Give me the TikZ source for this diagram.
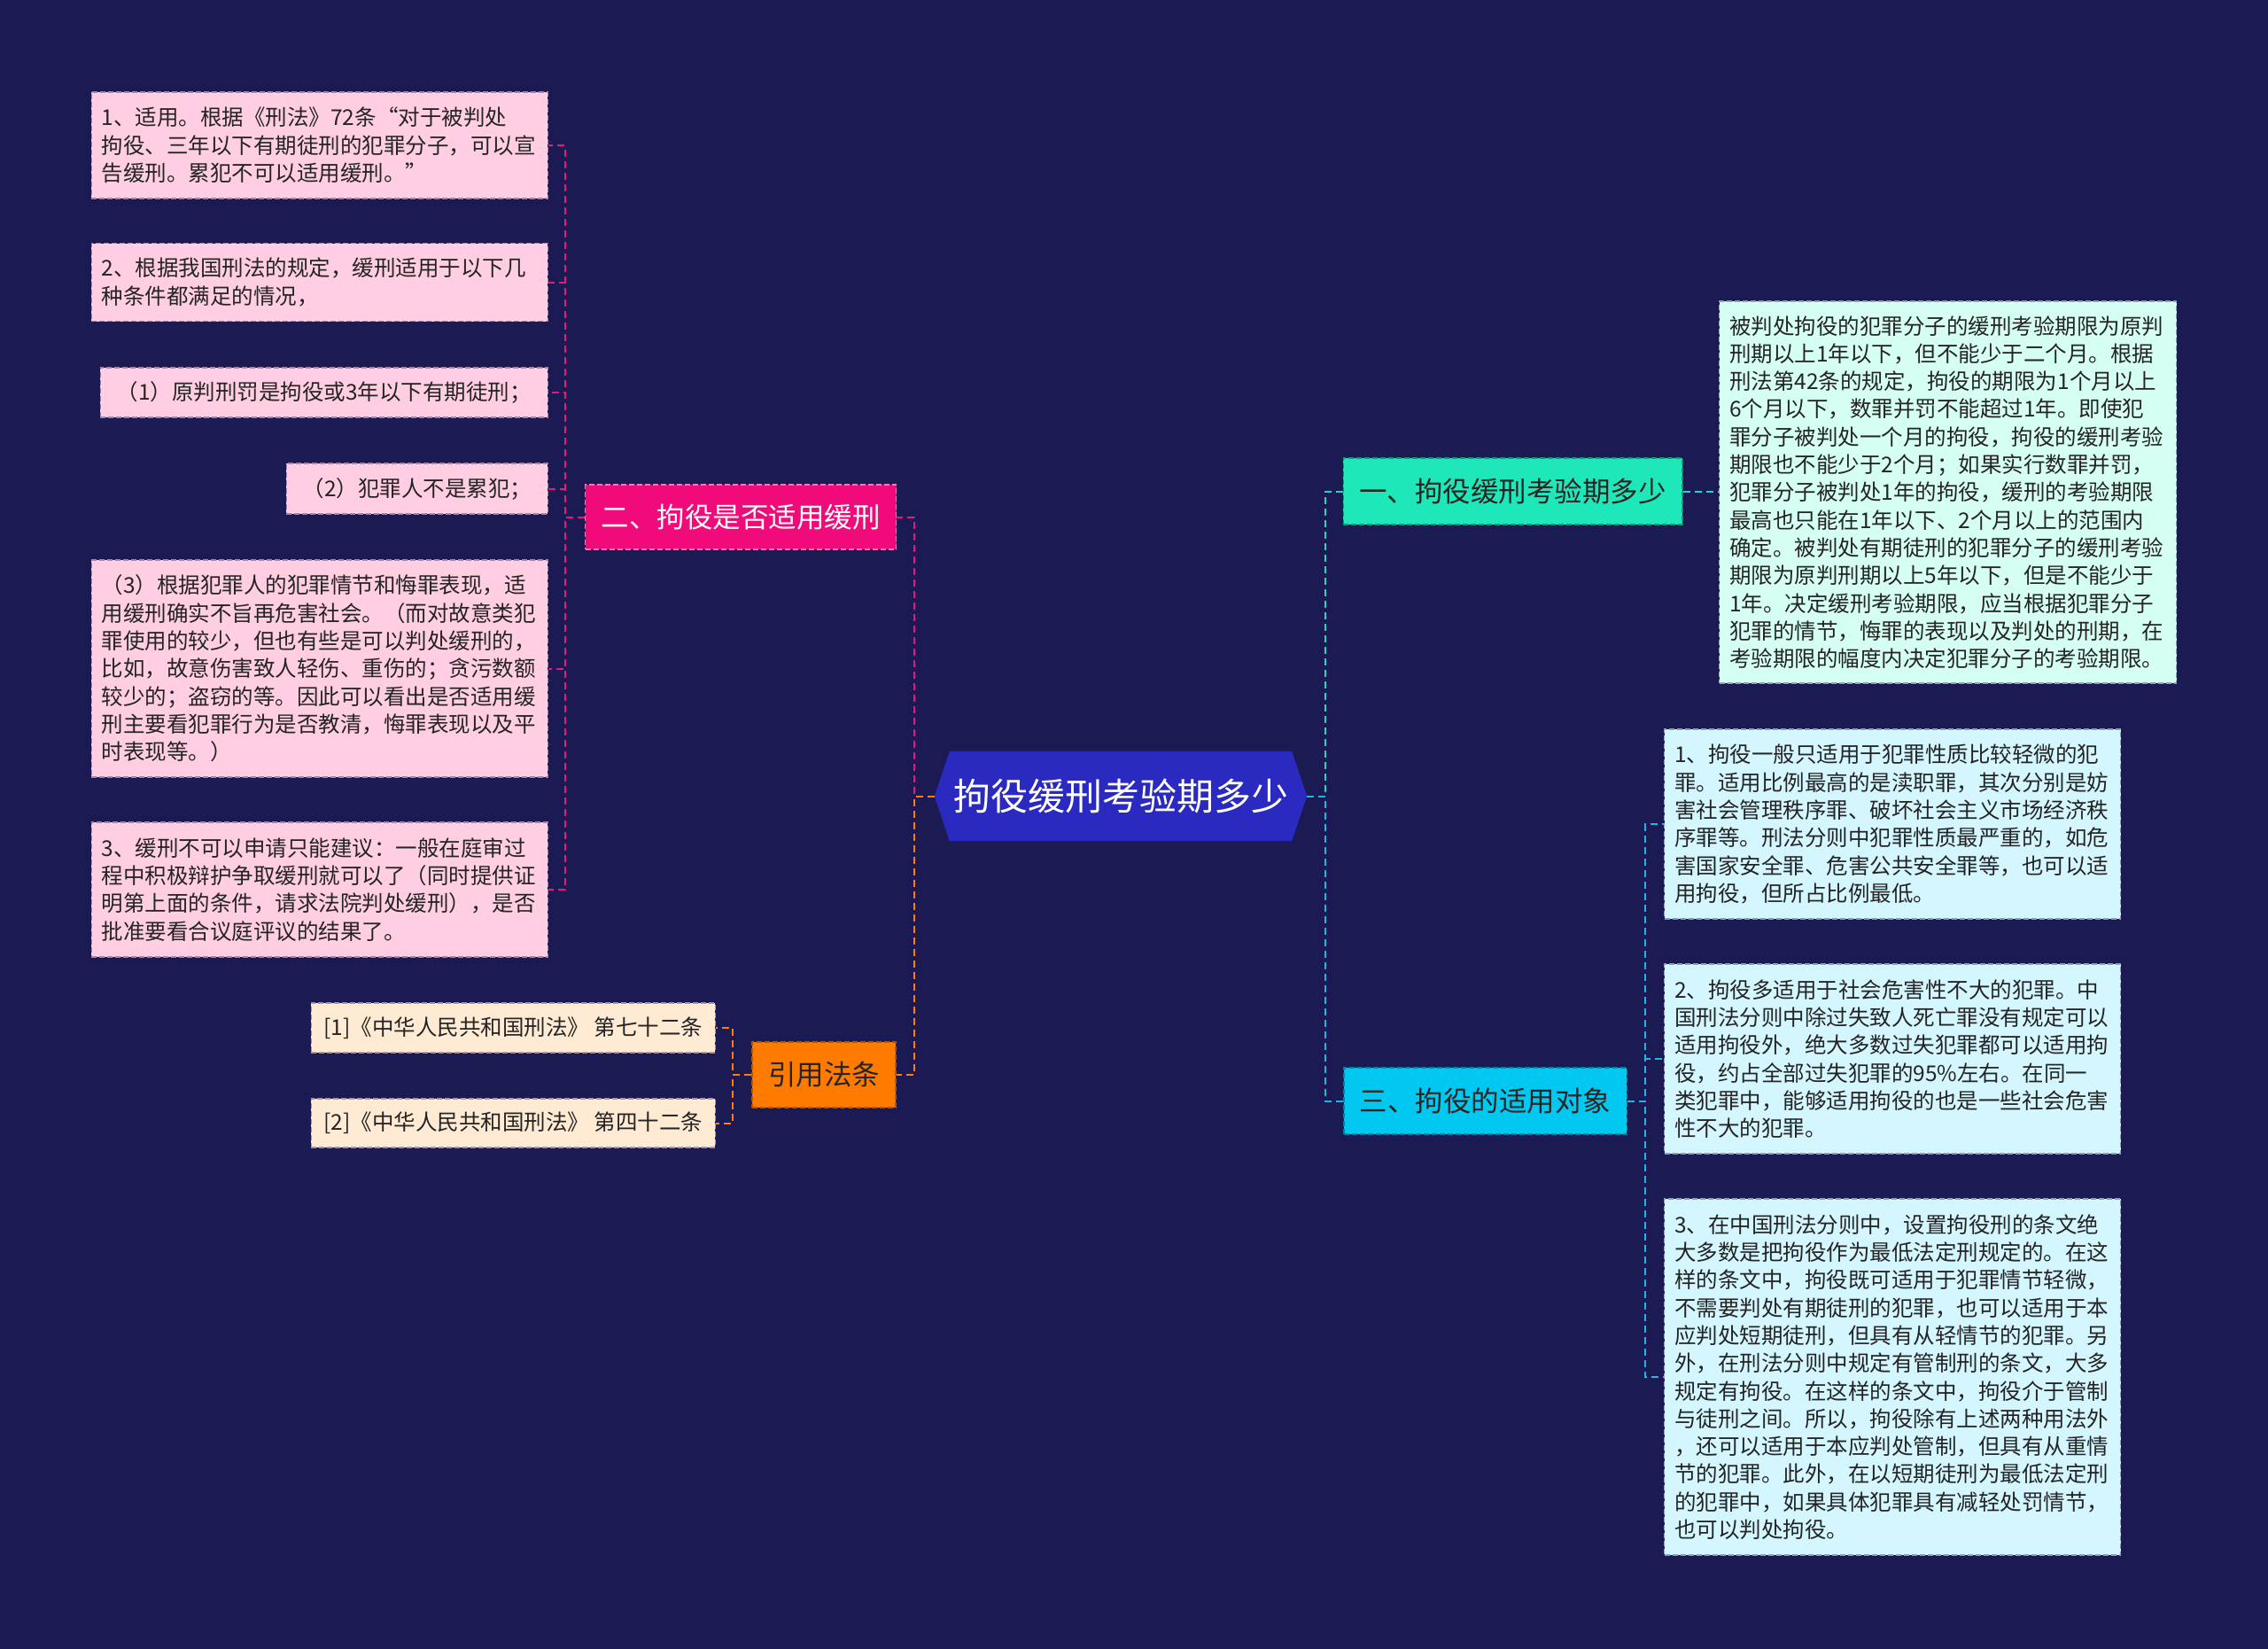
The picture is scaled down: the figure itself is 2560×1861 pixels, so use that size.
\documentclass[tikz,border=0pt]{standalone}
\usepackage{fontspec}
\setmainfont{Noto Sans CJK SC}
\usetikzlibrary{backgrounds}

\definecolor{bgnavy}{RGB}{27,26,82}
\definecolor{rootfill}{RGB}{42,42,192}
\definecolor{erfill}{RGB}{240,10,122}
\definecolor{yifill}{RGB}{30,232,186}
\definecolor{sanfill}{RGB}{0,200,240}
\definecolor{yyfill}{RGB}{255,123,0}
\definecolor{pinkleaf}{RGB}{255,206,226}
\definecolor{peachleaf}{RGB}{255,234,212}
\definecolor{mintleaf}{RGB}{214,255,243}
\definecolor{cyanleaf}{RGB}{212,246,255}
\definecolor{pinkline}{RGB}{232,24,126}
\definecolor{orangeline}{RGB}{255,125,10}
\definecolor{tealline}{RGB}{34,216,196}
\definecolor{blueline}{RGB}{30,182,232}
\definecolor{darktext}{RGB}{36,36,36}

\tikzset{
  conn/.style={line width=2pt, dash pattern=on 8pt off 5pt},
  lvlbox/.style={rectangle, draw, line width=1.5pt, dash pattern=on 6pt off 3pt,
    inner xsep=18pt, inner ysep=6pt, minimum height=74pt,
    font=\fontsize{31.5}{38}\selectfont, text=darktext},
  leafbox/.style={rectangle, draw, line width=1.4pt, dash pattern=on 6pt off 3pt,
    inner xsep=11.5pt, inner ysep=6pt, align=left,
    font=\fontsize{24.5}{31.3}\selectfont, text=darktext},
  lineleaf/.style={rectangle, draw, line width=1.4pt, dash pattern=on 6pt off 3pt,
    inner xsep=11.5pt, inner ysep=6pt,
    font=\fontsize{24.5}{30}\selectfont, text=darktext},
  pinkbox/.style={fill=pinkleaf, draw=pinkleaf!60!bgnavy},
  peachbox/.style={fill=peachleaf, draw=peachleaf!60!bgnavy},
  mintbox/.style={fill=mintleaf, draw=mintleaf!60!bgnavy},
  cyanbox/.style={fill=cyanleaf, draw=cyanleaf!60!bgnavy},
}

\begin{document}
\begin{tikzpicture}[x=1pt,y=-1pt]
\useasboundingbox (0,0) rectangle (2560,1861);

% root
\node[rectangle, minimum width=386pt, minimum height=101pt, inner sep=0pt,
  text=white, font=\fontsize{42}{50}\selectfont] (root) at (1265,898.5) {拘役缓刑考验期多少};
\coordinate (rootL) at ([xshift=-17pt]root.west);
\coordinate (rootR) at ([xshift=17pt]root.east);

% level 1
\node[lvlbox, fill=erfill, draw=erfill!55!white, text=white, minimum width=346pt, minimum height=73pt]
  (er) at (836,583.5) {二、拘役是否适用缓刑};
\node[lvlbox, fill=yyfill, draw=yyfill!70!black, minimum width=159pt]
  (yy) at (930,1213) {引用法条};
\node[lvlbox, fill=yifill, draw=yifill!65!black, minimum width=379pt, minimum height=75pt]
  (yi) at (1707.5,554.5) {一、拘役缓刑考验期多少};
\node[lvlbox, fill=sanfill, draw=sanfill!65!black, minimum width=317pt, minimum height=75pt]
  (san) at (1676.5,1242.5) {三、拘役的适用对象};

% left leaves
\node[leafbox, pinkbox, anchor=east, text width=492pt, minimum height=120pt] (l1) at (619,164)
  {1、适用。根据《刑法》72条“对于被判处\\拘役、三年以下有期徒刑的犯罪分子，可以宣\\告缓刑。累犯不可以适用缓刑。”};
\node[leafbox, pinkbox, anchor=east, text width=492pt, minimum height=88pt] (l2) at (619,318.5)
  {2、根据我国刑法的规定，缓刑适用于以下几\\种条件都满足的情况，};
\node[lineleaf, pinkbox, anchor=east, minimum width=505pt, minimum height=56pt] (l3) at (619,443)
  {（1）原判刑罚是拘役或3年以下有期徒刑；};
\node[lineleaf, pinkbox, anchor=east, minimum width=295pt, minimum height=57pt] (l4) at (619,551.5)
  {（2）犯罪人不是累犯；};
\node[leafbox, pinkbox, anchor=east, text width=492pt, minimum height=245pt] (l5) at (619,754.5)
  {（3）根据犯罪人的犯罪情节和悔罪表现，适\\用缓刑确实不旨再危害社会。（而对故意类犯\\罪使用的较少，但也有些是可以判处缓刑的，\\比如，故意伤害致人轻伤、重伤的；贪污数额\\较少的；盗窃的等。因此可以看出是否适用缓\\刑主要看犯罪行为是否教清，悔罪表现以及平\\时表现等。）};
\node[leafbox, pinkbox, anchor=east, text width=492pt, minimum height=152pt] (l6) at (619,1004)
  {3、缓刑不可以申请只能建议：一般在庭审过\\程中积极辩护争取缓刑就可以了（同时提供证\\明第上面的条件，请求法院判处缓刑），是否\\批准要看合议庭评议的结果了。};

% citation leaves
\node[lineleaf, peachbox, anchor=east, minimum width=456pt, minimum height=56pt] (c1) at (808,1160)
  {[1]《中华人民共和国刑法》 第七十二条};
\node[lineleaf, peachbox, anchor=east, minimum width=456pt, minimum height=55pt] (c2) at (808,1267.5)
  {[2]《中华人民共和国刑法》 第四十二条};

% right leaves
\node[leafbox, mintbox, anchor=west, text width=493pt, minimum height=431pt] (yic) at (1940,555.5)
  {被判处拘役的犯罪分子的缓刑考验期限为原判\\刑期以上1年以下，但不能少于二个月。根据\\刑法第42条的规定，拘役的期限为1个月以上\\6个月以下，数罪并罚不能超过1年。即使犯\\罪分子被判处一个月的拘役，拘役的缓刑考验\\期限也不能少于2个月；如果实行数罪并罚，\\犯罪分子被判处1年的拘役，缓刑的考验期限\\最高也只能在1年以下、2个月以上的范围内\\确定。被判处有期徒刑的犯罪分子的缓刑考验\\期限为原判刑期以上5年以下，但是不能少于\\1年。决定缓刑考验期限，应当根据犯罪分子\\犯罪的情节，悔罪的表现以及判处的刑期，在\\考验期限的幅度内决定犯罪分子的考验期限。};
\node[leafbox, cyanbox, anchor=west, text width=492pt, minimum height=214pt] (s1) at (1878,930)
  {1、拘役一般只适用于犯罪性质比较轻微的犯\\罪。适用比例最高的是渎职罪，其次分别是妨\\害社会管理秩序罪、破坏社会主义市场经济秩\\序罪等。刑法分则中犯罪性质最严重的，如危\\害国家安全罪、危害公共安全罪等，也可以适\\用拘役，但所占比例最低。};
\node[leafbox, cyanbox, anchor=west, text width=492pt, minimum height=214pt] (s2) at (1878,1195)
  {2、拘役多适用于社会危害性不大的犯罪。中\\国刑法分则中除过失致人死亡罪没有规定可以\\适用拘役外，绝大多数过失犯罪都可以适用拘\\役，约占全部过失犯罪的95\%左右。在同一\\类犯罪中，能够适用拘役的也是一些社会危害\\性不大的犯罪。};
\node[leafbox, cyanbox, anchor=west, text width=492pt, minimum height=402pt] (s3) at (1878,1554)
  {3、在中国刑法分则中，设置拘役刑的条文绝\\大多数是把拘役作为最低法定刑规定的。在这\\样的条文中，拘役既可适用于犯罪情节轻微，\\不需要判处有期徒刑的犯罪，也可以适用于本\\应判处短期徒刑，但具有从轻情节的犯罪。另\\外，在刑法分则中规定有管制刑的条文，大多\\规定有拘役。在这样的条文中，拘役介于管制\\与徒刑之间。所以，拘役除有上述两种用法外\\，还可以适用于本应判处管制，但具有从重情\\节的犯罪。此外，在以短期徒刑为最低法定刑\\的犯罪中，如果具体犯罪具有减轻处罚情节，\\也可以判处拘役。};

% background and root shape
\begin{scope}[on background layer]
  \fill[bgnavy] (0,0) rectangle (2560,1861);
  \fill[rootfill] (rootL) -- (root.north west) -- (root.north east) -- (rootR)
    -- (root.south east) -- (root.south west) -- cycle;
\end{scope}

% connectors from root
\draw[conn, pinkline] (rootL) -- ++(-23,0) |- (er.east);
\draw[conn, orangeline] (rootL) -- ++(-23,0) |- (yy.east);
\draw[conn, tealline] (rootR) -- ++(21,0) |- (yi.west);
\draw[conn, blueline] (rootR) -- ++(21,0) |- (san.west);

% level-1 to leaves
\foreach \n in {l1,l2,l3,l4,l5,l6}
  \draw[conn, pinkline] (er.west) -- ++(-22,0) |- (\n.east);
\foreach \n in {c1,c2}
  \draw[conn, orangeline] (yy.west) -- ++(-21,0) |- (\n.east);
\draw[conn, tealline] (yi.east) -- (yic.west |- yi.east);
\foreach \n in {s1,s2,s3}
  \draw[conn, blueline] (san.east) -- ++(20,0) |- (\n.west);
\end{tikzpicture}
\end{document}
